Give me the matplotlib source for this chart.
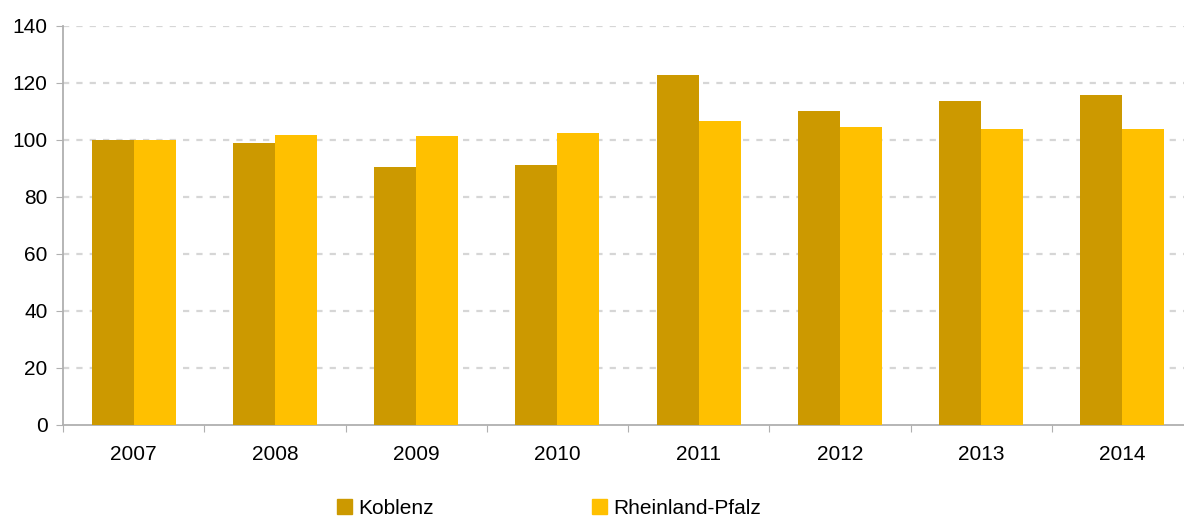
import matplotlib
matplotlib.use("Agg")
import matplotlib.pyplot as plt
from matplotlib.patches import Patch
import numpy as np

years = ["2007", "2008", "2009", "2010", "2011", "2012", "2013", "2014"]
koblenz = [100.0, 98.8, 90.4, 91.1, 122.6, 110.0, 113.5, 115.6]
rlp = [100.0, 101.6, 101.2, 102.3, 106.5, 104.4, 103.7, 103.7]
series_names = ["Koblenz", "Rheinland-Pfalz"]
yticks = [0, 20, 40, 60, 80, 100, 120, 140]

plt.rcParams['font.family'] = ['Liberation Sans', 'DejaVu Sans']

W, H = 1184, 517
fig = plt.figure(figsize=(W / 100, H / 100), dpi=100)
ax = fig.add_axes([63 / W, (H - 424.5) / H, 1130 / W, 399 / H])

x = np.arange(len(years))
bw = 0.297
c1, c2 = "#CC9900", "#FFC000"
ax.bar(x - bw / 2, koblenz, width=bw, color=c1, zorder=3)
ax.bar(x + bw / 2, rlp, width=bw, color=c2, zorder=3)

fs = 15
ax.set_xlim(-0.5, len(years) - 0.5)
ax.set_ylim(0, 140)
ax.set_yticks(yticks)
ax.set_yticklabels([str(v) for v in yticks], fontsize=fs)
for v in yticks[1:]:
    ax.axhline(v, color="#d6d6d6", lw=1.6, dashes=(2.8, 3.2), zorder=1)

ax.set_xticks(np.arange(len(years) + 1) - 0.5)
ax.set_xticklabels([])
ax.set_xticks(x, minor=True)
ax.set_xticklabels(years, minor=True, fontsize=fs)
ax.tick_params(axis="x", which="major", length=5, color="#b0b0b0", direction="out")
ax.tick_params(axis="x", which="minor", length=0, pad=15)
ax.tick_params(axis="y", length=5, color="#b0b0b0", direction="out", pad=6)

for s in ["top", "right"]:
    ax.spines[s].set_visible(False)
for s in ["left", "bottom"]:
    ax.spines[s].set_color("#b0b0b0")
    ax.spines[s].set_linewidth(1.3)

handles = [Patch(color=c1, label=series_names[0]), Patch(color=c2, label=series_names[1])]
fig.legend(handles=handles, loc="center left", bbox_to_anchor=(337 / W, (H - 508) / H),
           ncol=2, frameon=False, fontsize=fs, handlelength=0.72, handleheight=0.72,
           handletextpad=0.3, columnspacing=7.6, borderaxespad=0, borderpad=0)

fig.savefig("out.png", dpi=100)
